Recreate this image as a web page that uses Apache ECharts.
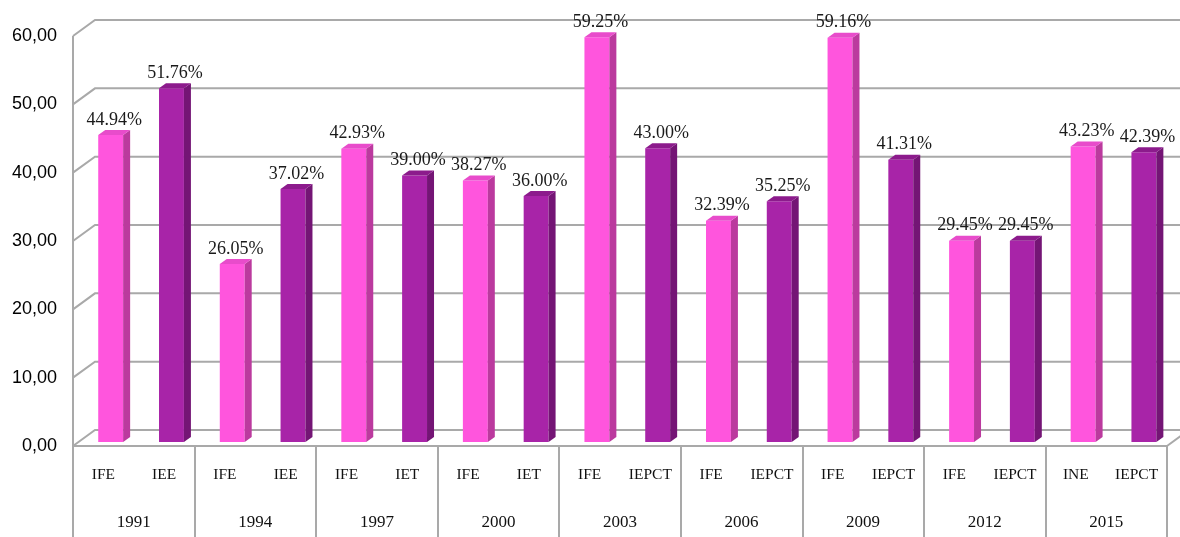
<!DOCTYPE html>
<html>
<head>
<meta charset="utf-8">
<script src="https://cdn.jsdelivr.net/npm/echarts@6/dist/echarts.min.js"></script>
<style>html,body{margin:0;padding:0;background:#fff}#c{width:1180px;height:537px}</style>
</head>
<body>
<div id="c"></div>
<script>
// ---- data ----
const years = ['1991','1994','1997','2000','2003','2006','2009','2012','2015'];
const firstLabels = ['IFE','IFE','IFE','IFE','IFE','IFE','IFE','IFE','INE'];
const secondLabels = ['IEE','IEE','IET','IET','IEPCT','IEPCT','IEPCT','IEPCT','IEPCT'];
const firstValues = [44.94, 26.05, 42.93, 38.27, 59.25, 32.39, 59.16, 29.45, 43.23];
const secondValues = [51.76, 37.02, 39.00, 36.00, 43.00, 35.25, 41.31, 29.45, 42.39];
const yTicks = [0, 10, 20, 30, 40, 50, 60];

// ---- derived ----
const categories = [];
years.forEach((y, i) => { categories.push(firstLabels[i]); categories.push(secondLabels[i]); });
const firstData = firstValues.map((v, i) => [2 * i, v]);
const secondData = secondValues.map((v, i) => [2 * i + 1, v]);

const DX = 22, DY = -16;          // wall depth
const BDX = 7, BDY = -5;          // bar depth
const WALL = '#a9a9a9';

function barRenderer(front, side, topc) {
  return function (params, api) {
    const c = api.value(0), v = api.value(1);
    const top = api.coord([c, v]);
    const base = api.coord([c, 0]);
    const cw = api.size([1, 0])[0];
    const bw = cw * 0.41;
    const cx = top[0] + cw * 0.12;
    const x0 = cx - bw / 2, x1 = cx + bw / 2;
    const yT = top[1] - 4, yB = base[1] - 4;
    return {
      type: 'group',
      children: [
        { type: 'rect', shape: { x: x0, y: yT, width: bw, height: yB - yT }, style: { fill: front } },
        { type: 'polygon', shape: { points: [[x1, yB], [x1, yT], [x1 + BDX, yT + BDY], [x1 + BDX, yB + BDY]] }, style: { fill: side } },
        { type: 'polygon', shape: { points: [[x0, yT], [x1, yT], [x1 + BDX, yT + BDY], [x0 + BDX, yT + BDY]] }, style: { fill: topc } },
        { type: 'text', style: { text: v.toFixed(2) + '%', x: cx + BDX / 2, y: yT - 15, align: 'center', verticalAlign: 'middle', font: '18px "Liberation Serif"', fill: '#1a1a1a' } }
      ]
    };
  };
}

function wallRenderer(params, api) {
  const cs = params.coordSys;
  const v = api.value(0);
  const y = api.coord([0, v])[1];
  const x0 = cs.x, x1 = cs.x + cs.width;
  const children = [
    { type: 'polyline', shape: { points: [[x0, y], [x0 + DX, y + DY], [x1 + DX, y + DY]] }, style: { stroke: WALL, lineWidth: 2, fill: null } }
  ];
  if (v === 0) {
    children.push({ type: 'line', shape: { x1: x0, y1: y, x2: x1, y2: y }, style: { stroke: WALL, lineWidth: 2 } });
    children.push({ type: 'line', shape: { x1: x1, y1: y, x2: x1 + DX, y2: y + DY }, style: { stroke: WALL, lineWidth: 2 } });
    const yTop = api.coord([0, yTicks[yTicks.length - 1]])[1];
    children.push({ type: 'line', shape: { x1: x0, y1: yTop, x2: x0, y2: y }, style: { stroke: WALL, lineWidth: 2 } });
  }
  return { type: 'group', children };
}

const chart = echarts.init(document.getElementById('c'), null, { renderer: 'canvas' });
chart.setOption({
  animation: false,
  backgroundColor: '#fff',
  grid: { left: 73, right: 13, top: 36, bottom: 91 },
  xAxis: [
    {
      type: 'category', data: categories, position: 'bottom',
      axisLine: { show: false }, axisTick: { show: false },
      axisLabel: { margin: 21, interval: 0, fontFamily: 'Liberation Serif', fontSize: 15.5, color: '#111' }
    },
    {
      type: 'category', data: years, position: 'bottom',
      axisLine: { show: false },
      axisTick: { show: true, length: 91, lineStyle: { color: WALL, width: 2 } },
      axisLabel: { margin: 68, interval: 0, fontFamily: 'Liberation Serif', fontSize: 17, color: '#111' }
    }
  ],
  yAxis: {
    type: 'value', min: 0, max: 60, interval: 10,
    axisLine: { show: false }, axisTick: { show: false }, splitLine: { show: false },
    axisLabel: { margin: 16, fontFamily: 'Liberation Sans', fontSize: 18, color: '#000',
      formatter: v => v.toFixed(2).replace('.', ',') }
  },
  series: [
    { type: 'custom', name: 'walls', xAxisIndex: 0, data: yTicks.map(v => [v]), renderItem: wallRenderer, z: 1, silent: true,
      encode: { y: 0 } },
    { type: 'custom', name: 'first', xAxisIndex: 0, data: firstData, renderItem: barRenderer('#ff55dd', '#bb3a9e', '#e84ccb'), z: 5,
      encode: { x: 0, y: 1 } },
    { type: 'custom', name: 'second', xAxisIndex: 0, data: secondData, renderItem: barRenderer('#a824a8', '#741575', '#8c1b8c'), z: 5,
      encode: { x: 0, y: 1 } }
  ]
});
</script>
</body>
</html>
